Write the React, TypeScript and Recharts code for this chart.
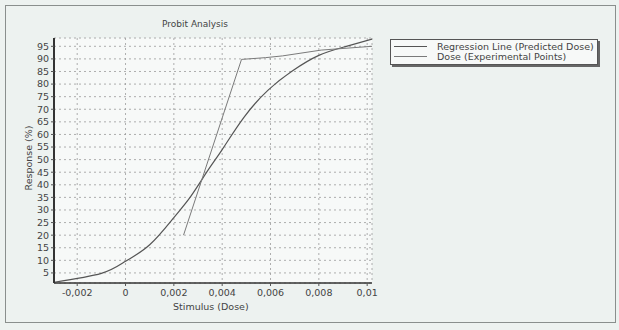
import { CartesianGrid, Line, LineChart, XAxis, YAxis } from "recharts";

// regression line (predicted dose)
const regDose = [-0.00296, -0.001, 0, 0.001, 0.002, 0.0027, 0.0034, 0.004, 0.0049, 0.0059, 0.0069, 0.008, 0.0091, 0.0102];
const regResp = [1.3, 4.8, 9.6, 16.2, 27, 35.4, 45.6, 54, 66.8, 77.6, 85.2, 91.4, 94.9, 97.9];

// experimental points
const expDose = [0.0024, 0.0048, 0.0058, 0.0065, 0.0081, 0.0102];
const expResp = [20, 89.8, 90.5, 91.2, 93.5, 95];

const xTicks = [-0.002, 0, 0.002, 0.004, 0.006, 0.008, 0.01];
const yTicks = [5, 10, 15, 20, 25, 30, 35, 40, 45, 50, 55, 60, 65, 70, 75, 80, 85, 90, 95];

const regData = regDose.map((x, i) => ({ x, y: regResp[i] }));
const expData = expDose.map((x, i) => ({ x, y: expResp[i] }));

const font = "'DejaVu Sans', Verdana, sans-serif";
const tickStyle = { fontSize: 9.5, fill: "#444", fontFamily: font };

const fmtX = (v: number) => (v === 0 ? "0" : String(Number(v.toFixed(3))).replace(".", ","));

export default function App() {
  return (
    <div
      style={{
        position: "absolute",
        left: 0,
        top: 0,
        width: 619,
        height: 330,
        background: "#edf2f0",
        fontFamily: font,
      }}
    >
      <div
        style={{
          position: "absolute",
          left: 5,
          top: 5,
          width: 609,
          height: 316,
          border: "1.5px solid #8a8f8d",
        }}
      />
      <div
        style={{
          position: "absolute",
          left: 54,
          top: 38,
          width: 318,
          height: 245,
          background: "#f7f9f8",
        }}
      />
      <div style={{ position: "absolute", left: 162, top: 19, fontSize: 9, color: "#444" }}>Probit Analysis</div>
      <div
        style={{
          position: "absolute",
          left: 28,
          top: 158,
          fontSize: 9.5,
          color: "#444",
          transform: "translate(-50%, -50%) rotate(-90deg)",
          whiteSpace: "nowrap",
        }}
      >
        Response (%)
      </div>
      <div style={{ position: "absolute", left: 173, top: 301, fontSize: 9.5, color: "#444" }}>Stimulus (Dose)</div>

      <LineChart
        width={619}
        height={330}
        margin={{ top: 38, right: 247, bottom: 17, left: 24 }}
        style={{ position: "absolute", left: 0, top: 0 }}
      >
        <CartesianGrid xAxisId="b" yAxisId="l" stroke="#9a9a9a" strokeDasharray="2 3" strokeWidth={0.8} />
        <XAxis
          xAxisId="b"
          dataKey="x"
          type="number"
          domain={[-0.00296, 0.0102]}
          ticks={xTicks}
          interval={0}
          tickFormatter={fmtX}
          allowDataOverflow
          height={30}
          tick={tickStyle}
          tickSize={3}
          tickMargin={3}
          axisLine={{ stroke: "#333", strokeWidth: 1.5 }}
          tickLine={{ stroke: "#555" }}
        />
        <XAxis
          xAxisId="t"
          dataKey="x"
          type="number"
          orientation="top"
          domain={[-0.00296, 0.0102]}
          height={0}
          tick={false}
          tickLine={false}
          axisLine={{ stroke: "#555", strokeWidth: 1 }}
        />
        <YAxis
          yAxisId="l"
          type="number"
          domain={[1, 98.3]}
          ticks={yTicks}
          interval={0}
          allowDataOverflow
          width={30}
          tick={tickStyle}
          tickSize={3}
          tickMargin={2}
          axisLine={{ stroke: "#333", strokeWidth: 2 }}
          tickLine={{ stroke: "#555" }}
        />
        <YAxis
          yAxisId="r"
          type="number"
          orientation="right"
          domain={[1, 98.3]}
          width={0}
          tick={false}
          tickLine={false}
          axisLine={{ stroke: "#555", strokeWidth: 1 }}
        />
        <Line
          xAxisId="b"
          yAxisId="l"
          data={regData}
          dataKey="y"
          type="natural"
          stroke="#555"
          strokeWidth={1.2}
          dot={false}
          isAnimationActive={false}
        />
        <Line
          xAxisId="b"
          yAxisId="l"
          data={expData}
          dataKey="y"
          type="linear"
          stroke="#7a7a7a"
          strokeWidth={1}
          dot={false}
          isAnimationActive={false}
        />
      </LineChart>

      <div
        style={{
          position: "absolute",
          left: 390,
          top: 39,
          width: 206,
          height: 24,
          background: "#f7f9f8",
          border: "1px solid #555",
          boxShadow: "2px 2px 0 #666",
          fontSize: 9.5,
          color: "#444",
        }}
      >
        {[
          { name: "Regression Line (Predicted Dose)", color: "#555" },
          { name: "Dose (Experimental Points)", color: "#7a7a7a" },
        ].map((item, i) => (
          <div key={item.name} style={{ position: "absolute", left: 0, top: 1 + i * 10, height: 11, display: "flex", alignItems: "center" }}>
            <span style={{ display: "inline-block", marginLeft: 3, width: 33, height: 0, borderTop: `1px solid ${item.color}` }} />
            <span style={{ marginLeft: 10, whiteSpace: "nowrap" }}>{item.name}</span>
          </div>
        ))}
      </div>
    </div>
  );
}
